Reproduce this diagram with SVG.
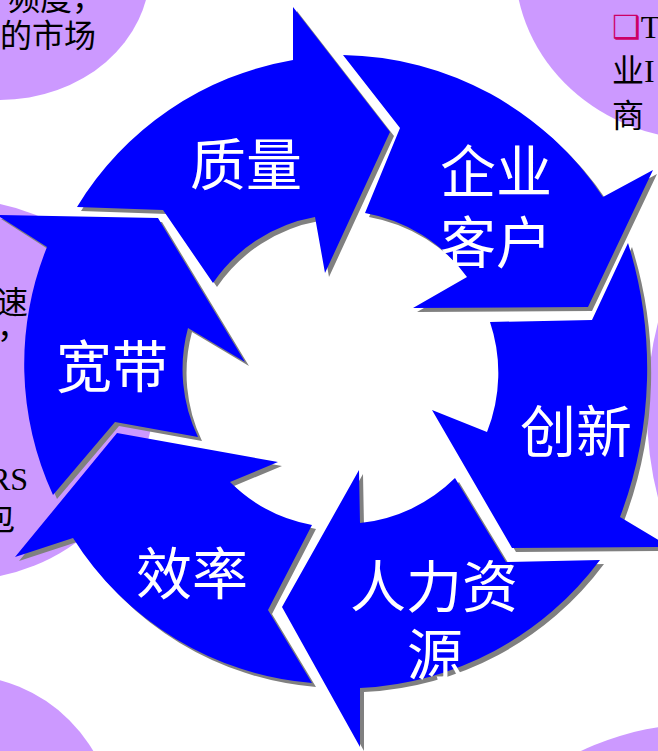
<svg xmlns="http://www.w3.org/2000/svg" width="658" height="751" viewBox="0 0 658 751">
<style>
.blob{fill:#CC99FF}
.sh{fill:#808080}
.ar{fill:#0000FF}
.lbl{fill:#FFFFFF;font-family:"Noto Sans CJK SC","Noto Sans CJK JP",sans-serif;font-size:56px;text-anchor:middle}
.bt{fill:#000000;font-family:"Liberation Serif","Noto Sans CJK SC",serif;font-size:32px}
</style>
<defs>
<path id="pA" d="M77,207 A315,315 0 0 1 293,60 L293,7 L390,132 L325,273 L315,217 A157,157 0 0 0 213,283 L163,210 Z"/>
<path id="pB" d="M343,55 A318,318 0 0 1 603,197 L653,170 L588,307 L413,308 L467,277 A160,160 0 0 0 365,213 L400,128 Z"/>
<path id="pC" d="M628,243 A420,420 0 0 1 620,517 L670,547 L512,548 L432,410 L487,432 A160,160 0 0 0 490,322 L592,320 Z"/>
<path id="pD" d="M600,560 A318,318 0 0 1 360,688 L360,747 L282,607 L359,470 L360,523 A158,158 0 0 0 455,478 L506,562 Z"/>
<path id="pE" d="M312,683 A312,312 0 0 1 73,538 L15,557 L117,433 L278,462 L230,482 A157,157 0 0 0 312,525 L268,610 Z"/>
<path id="pF" d="M53,495 A312,312 0 0 1 47,247 L-3,215 L158,218 L245,362 L188,328 A157,157 0 0 0 198,437 L115,422 Z"/>
</defs>
<rect width="658" height="751" fill="#FFFFFF"/>
<g id="backdrop">
<ellipse class="blob" cx="0" cy="-30" rx="150" ry="130"/>
<ellipse class="blob" cx="705" cy="-35" rx="190" ry="175"/>
<ellipse class="blob" cx="-40" cy="390" rx="195" ry="190"/>
<ellipse class="blob" cx="792" cy="410" rx="145" ry="230"/>
<circle class="blob" cx="-40" cy="830" r="155"/>
<circle class="blob" cx="700" cy="1000" r="276"/>
<text class="bt" x="8" y="10">频度，</text>
<text class="bt" x="0" y="47">的市场</text>
<text class="bt" x="612" y="38"><tspan font-family="DejaVu Sans" fill="#CC0066">❑</tspan>T</text>
<text class="bt" x="612" y="82">业I</text>
<text class="bt" x="612" y="127">商</text>
<text class="bt" x="-4" y="314">速</text>
<text class="bt" x="-3" y="338">，</text>
<text class="bt" x="-11" y="490">RS</text>
<text class="bt" x="-17" y="530">包</text>
</g>
<g id="node-zhiliang">
<use href="#pA" class="sh" transform="translate(4,4)"/>
<use href="#pA" class="ar"/>
<text class="lbl" x="246" y="185">质量</text>
</g>
<g id="node-qiyekehu">
<use href="#pB" class="sh" transform="translate(4,4)"/>
<use href="#pB" class="ar"/>
<text class="lbl" x="496" y="192">企业</text>
<text class="lbl" x="496" y="263">客户</text>
</g>
<g id="node-chuangxin">
<use href="#pC" class="sh" transform="translate(4,4)"/>
<use href="#pC" class="ar"/>
<text class="lbl" x="576" y="452">创新</text>
</g>
<g id="node-renliziyuan">
<use href="#pD" class="sh" transform="translate(4,4)"/>
<use href="#pD" class="ar"/>
<text class="lbl" x="434" y="607">人力资</text>
<text class="lbl" x="435" y="675">源</text>
</g>
<g id="node-xiaolv">
<use href="#pE" class="sh" transform="translate(4,4)"/>
<use href="#pE" class="ar"/>
<text class="lbl" x="192" y="594">效率</text>
</g>
<g id="node-kuandai">
<use href="#pF" class="sh" transform="translate(4,4)"/>
<use href="#pF" class="ar"/>
<text class="lbl" x="112" y="387">宽带</text>
</g>
<g id="connectors"></g>
</svg>
